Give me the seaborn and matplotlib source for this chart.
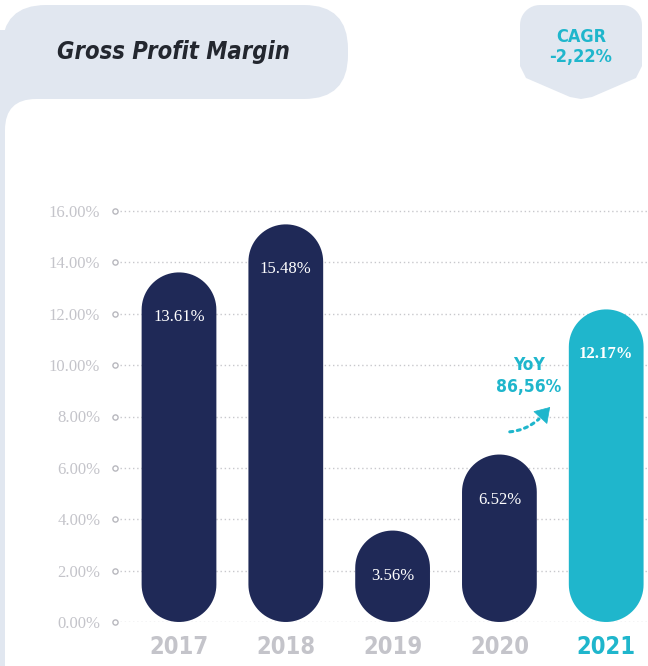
import numpy as np
import matplotlib.pyplot as plt
import seaborn as sns
from matplotlib.patches import FancyBboxPatch, Rectangle, Polygon

# data
years = ["2017", "2018", "2019", "2020", "2021"]
margin = [13.61, 15.48, 3.56, 6.52, 12.17]
bar_labels = ["13.61%", "15.48%", "3.56%", "6.52%", "12.17%"]
y_ticks = [0, 2, 4, 6, 8, 10, 12, 14, 16]
y_tick_labels = ["0.00%", "2.00%", "4.00%", "6.00%", "8.00%",
                 "10.00%", "12.00%", "14.00%", "16.00%"]
title = "Gross Profit Margin"
cagr_text = "CAGR\n-2,22%"
yoy_text = "YoY\n86,56%"

NAVY = "#1f2957"
TEAL = "#1fb6cc"
PANEL = "#e1e7f0"
GRAY = "#c4c4ca"
NARROW = ["DejaVu Sans"]

sns.set_theme(style="white")
plt.rcParams["font.family"] = ["Liberation Serif", "DejaVu Serif"]

W, H = 648, 666
fig = plt.figure(figsize=(W / 100, H / 100), dpi=100)
fig.patch.set_facecolor("white")


def pixel_axes(z):
    a = fig.add_axes([0, 0, 1, 1], zorder=z)
    a.set_xlim(0, W)
    a.set_ylim(H, 0)
    a.axis("off")
    a.patch.set_alpha(0)
    return a


# background decorations in pixel coordinates
bg = pixel_axes(0)
bg.add_patch(Rectangle((0, 30), 5, H, fc=PANEL, lw=0))
bg.add_patch(Rectangle((0, 50), 70, 110, fc=PANEL, lw=0))
bg.add_patch(FancyBboxPatch((5, 99), 800, 800, boxstyle="round,pad=0,rounding_size=31",
                            fc="white", lw=0))
bg.add_patch(FancyBboxPatch((2, 5), 346, 94, boxstyle="round,pad=0,rounding_size=44",
                            fc=PANEL, lw=0))
bg.add_patch(Rectangle((2, 50), 100, 49, fc=PANEL, lw=0))

# CAGR badge: rounded top, chevron bottom
t = np.linspace(np.pi, 1.5 * np.pi, 12)
top_left = np.c_[540 + 20 * np.cos(t), 25 + 20 * np.sin(t)]
t = np.linspace(1.5 * np.pi, 2 * np.pi, 12)
top_right = np.c_[622 + 20 * np.cos(t), 25 + 20 * np.sin(t)]
lower = np.array([[642, 66], [636, 78], [592, 97], [581, 99], [570, 97], [526, 78], [520, 66]])
bg.add_patch(Polygon(np.vstack([top_left, top_right, lower]), closed=True, fc=PANEL, lw=0))

bg.text(57, 52, title, fontsize=17, fontweight="bold", fontstyle="italic",
        family=NARROW, fontstretch="condensed", color="#23272f", va="center", ha="left")
bg.text(581, 47, cagr_text, fontsize=13, fontweight="bold", family=NARROW,
        fontstretch="condensed", color=TEAL, ha="center", va="center", linespacing=1.15)

# chart area
ax_left, ax_bottom, ax_top = 110, 622, 190
ax = fig.add_axes([ax_left / W, (H - ax_bottom) / H, (W - ax_left) / W, (ax_bottom - ax_top) / H],
                  zorder=1)
ax.patch.set_alpha(0)

sns.barplot(x=years, y=margin, hue=years, palette=[NAVY] * 4 + [TEAL],
            legend=False, width=0.7, saturation=1, ax=ax)

px_y = (622 - 211) / 16.0
px_x = 106.8
ax.set_ylim(0, (ax_bottom - ax_top) / px_y)
ax.set_xlim(-(179 - ax_left) / px_x, (W - 179) / px_x)

# turn plain bars into pills with true semicircle ends
for p in list(ax.patches):
    x0, w, h = p.get_x(), p.get_width(), p.get_height()
    fc = p.get_facecolor()
    p.remove()
    rx = w / 2
    ry = rx * px_x / px_y
    cx = x0 + rx
    t_top = np.linspace(0, np.pi, 40)
    t_bot = np.linspace(np.pi, 2 * np.pi, 40)
    pts = np.vstack([np.c_[cx + rx * np.cos(t_top), h - ry + ry * np.sin(t_top)],
                     np.c_[cx + rx * np.cos(t_bot), ry + ry * np.sin(t_bot)]])
    ax.add_patch(Polygon(pts, closed=True, fc=fc, lw=0, zorder=2))

for i, (v, lab) in enumerate(zip(margin, bar_labels)):
    ax.text(i, v - 45 / px_y, lab, ha="center", va="center", color="white",
            fontsize=12, fontweight="bold" if i == len(years) - 1 else "normal", zorder=3)

# dotted grid with small hollow circles at the left
x_lo, x_hi = ax.get_xlim()
ax.hlines(y_ticks, x_lo + 10 / px_x, x_hi, colors="#c8c8cc", linestyles=(0, (1, 2)),
          lw=1, zorder=1)
ax.scatter([x_lo + 5 / px_x] * len(y_ticks), y_ticks, s=14, facecolor="white",
           edgecolor="#b8b8be", lw=1, clip_on=False, zorder=2)

ax.set_yticks(y_ticks, y_tick_labels)
ax.set_xticks(range(len(years)), years)
ax.tick_params(axis="y", length=0, pad=7, labelsize=12, labelcolor=GRAY)
ax.tick_params(axis="x", length=0, pad=9)
for i, lab in enumerate(ax.get_xticklabels()):
    lab.set_family(NARROW)
    lab.set_fontstretch("condensed")
    lab.set_fontweight("bold")
    lab.set_fontsize(17)
    lab.set_color(TEAL if i == len(years) - 1 else GRAY)
ax.set_xlabel("")
ax.set_ylabel("")
sns.despine(ax=ax, left=True, bottom=True)

# YoY note with dotted arrow, drawn over the chart
top = pixel_axes(3)
top.text(529, 376, yoy_text, fontsize=12.5, fontweight="bold", family=NARROW,
         fontstretch="condensed", color=TEAL, ha="center", va="center", linespacing=1.3)
top.annotate("", xy=(541, 417), xytext=(507, 432),
             arrowprops=dict(arrowstyle="-", ls=(0, (1, 1.5)), lw=2.2, color=TEAL,
                             connectionstyle="arc3,rad=0.2"))
top.annotate("", xy=(552, 405), xytext=(540, 418),
             arrowprops=dict(arrowstyle="-|>,head_length=0.7,head_width=0.45",
                             lw=0.5, color=TEAL, mutation_scale=14))

fig.savefig("out.png", dpi=100)
